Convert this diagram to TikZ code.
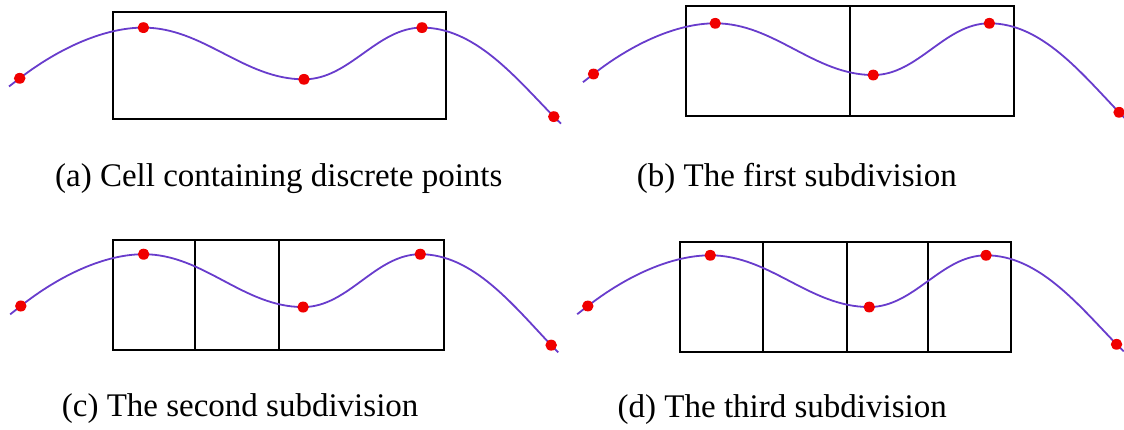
\documentclass[tikz,border=0pt]{standalone}
\usepackage{fontspec}
\setmainfont{Liberation Serif}
\definecolor{curvec}{RGB}{104,60,204}
\definecolor{dotc}{RGB}{240,0,0}
\tikzset{
  cell/.style={draw=black, line width=2pt},
  divline/.style={draw=black, line width=2pt},
  curveline/.style={draw=curvec, line width=1.8pt},
  dotmark/.style={fill=dotc, draw=none},
  caption/.style={anchor=base west, inner sep=0pt, font=\fontsize{33}{40}\selectfont}
}
\newcommand\drawwave{%
  \draw[curveline] (-10.7,8.8) -- (0,0)
    .. controls (40,-33) and (85,-54.5) .. (123.7,-54.5)
    .. controls (184,-54.5) and (224,1.1) .. (284.3,1.1)
    .. controls (330,1.1) and (357,-54.5) .. (402.3,-54.5)
    .. controls (455,-54.5) and (495,-2) .. (534.1,41.2)
    -- (541.3,48.8);
  \foreach \p in {(0,0),(123.7,-54.5),(284.3,1.1),(402.3,-54.5),(534.1,41.2)} \fill[dotmark] \p circle (5.8pt);
}
\begin{document}
\begin{tikzpicture}[x=1pt,y=-1pt]
\useasboundingbox (0,0) rectangle (1124,429);
% panel a
\draw[cell] (113,11.7) rectangle (446,119);
\begin{scope}[shift={(19.7,78.3)}, yscale=0.93]
\drawwave
\end{scope}
\node[caption] (capa) at (55,186) {(a) Cell containing discrete points};
% panel b
\draw[cell] (685.7,5.7) rectangle (1013.6,115.7);
\draw[divline] (849.5,5.7) -- (849.5,115.7);
\begin{scope}[shift={(593.5,74)}, xscale=0.984, yscale=0.93]
\drawwave
\end{scope}
\node[caption] (capb) at (636.7,186) {(b) The first subdivision};
% panel c
\draw[cell] (113.3,240) rectangle (444.4,350);
\draw[divline] (194.6,240) -- (194.6,350);
\draw[divline] (279.2,240) -- (279.2,350);
\begin{scope}[shift={(20.8,306)}, xscale=0.993, yscale=0.95]
\drawwave
\end{scope}
\node[caption] (capc) at (61.7,416.7) {(c) The second subdivision};
% panel d
\draw[cell] (680.3,242.3) rectangle (1011,351.7);
\draw[divline] (762.7,242.3) -- (762.7,351.7);
\draw[divline] (847,242.3) -- (847,351.7);
\draw[divline] (927.6,242.3) -- (927.6,351.7);
\begin{scope}[shift={(587.8,306)}, xscale=0.990, yscale=0.93]
\drawwave
\end{scope}
\node[caption] (capd) at (617.5,417) {(d) The third subdivision};
\end{tikzpicture}
\end{document}
